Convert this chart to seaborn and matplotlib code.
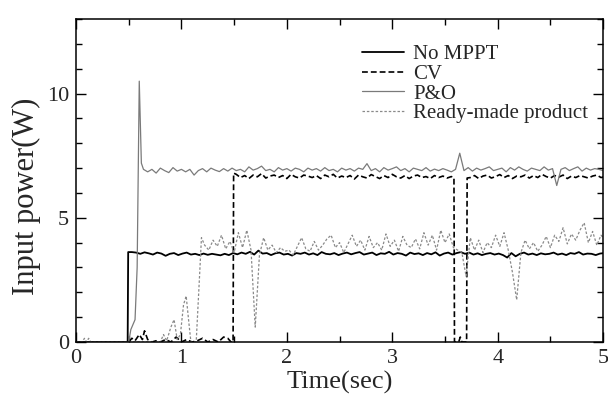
import numpy as np
import pandas as pd
import matplotlib
matplotlib.use("Agg")
import matplotlib.pyplot as plt
import seaborn as sns
from matplotlib.ticker import MultipleLocator

# sampling step of the noisy parts of the traces (sec)
STEP = 0.04

# --- No MPPT ---
nompt_head_t = [0.0, 0.49, 0.495]
nompt_head_p = [0.0, 0.0, 3.62]
nompt_start = 0.53
nompt_body = [
    3.62, 3.60, 3.55, 3.61, 3.57, 3.52, 3.60, 3.56, 3.47, 3.55,
    3.58, 3.50, 3.56, 3.60, 3.52, 3.55, 3.50, 3.56, 3.51, 3.55,
    3.52, 3.49, 3.55, 3.50, 3.58, 3.53, 3.60, 3.55, 3.63, 3.52,
    3.68, 3.56, 3.58, 3.50, 3.57, 3.60, 3.52, 3.55, 3.48, 3.58,
    3.55, 3.60, 3.52, 3.57, 3.50, 3.62, 3.55, 3.53, 3.58, 3.50,
    3.56, 3.60, 3.53, 3.58, 3.62, 3.52, 3.56, 3.60, 3.50, 3.57,
    3.55, 3.63, 3.52, 3.58, 3.55, 3.48, 3.60, 3.54, 3.57, 3.50,
    3.58, 3.53, 3.61, 3.48, 3.56, 3.60, 3.52, 3.58, 3.62, 3.55,
    3.60, 3.52, 3.57, 3.50, 3.55, 3.58, 3.52, 3.56, 3.50, 3.40,
    3.58, 3.45, 3.55, 3.60, 3.52, 3.56, 3.50, 3.57, 3.53, 3.55,
    3.60, 3.52, 3.56, 3.50, 3.58, 3.55, 3.62, 3.52, 3.56, 3.55,
    3.50, 3.56, 3.58,
]

# --- CV ---
cv_head_t = [0.0, 0.50, 0.53, 0.56, 0.60, 0.63, 0.65, 0.68, 0.72, 0.76, 0.80,
             0.85, 0.90, 0.95, 1.00, 1.05, 1.10, 1.15, 1.20, 1.25, 1.30, 1.35,
             1.40, 1.44, 1.47, 1.49, 1.495]
cv_head_p = [0.0, 0.0, 0.15, 0.05, 0.30, 0.10, 0.45, 0.10, 0.0, 0.05, 0.0,
             0.10, 0.0, 0.20, 0.0, 0.10, 0.0, 0.05, 0.15, 0.0, 0.10, 0.0,
             0.20, 0.15, 0.0, 0.0, 6.80]
cv_start1 = 1.52
cv_body1 = [
    6.75, 6.62, 6.70, 6.58, 6.72, 6.65, 6.78, 6.60, 6.68, 6.72,
    6.62, 6.70, 6.58, 6.75, 6.65, 6.60, 6.72, 6.68, 6.62, 6.70,
    6.58, 6.72, 6.65, 6.75, 6.60, 6.68, 6.62, 6.70, 6.56, 6.72,
    6.65, 6.60, 6.74, 6.66, 6.58, 6.70, 6.62, 6.75, 6.65, 6.60,
    6.70, 6.58, 6.68, 6.72, 6.62, 6.66, 6.58, 6.70, 6.62, 6.68,
    6.60, 6.66,
]
cv_drop_t = [3.585, 3.59, 3.63, 3.645, 3.66, 3.705, 3.71]
cv_drop_p = [6.62, 0.0, 0.0, 0.20, 0.0, 0.0, 6.60]
cv_start2 = 3.74
cv_body2 = [
    6.62, 6.70, 6.58, 6.68, 6.72, 6.60, 6.66, 6.74, 6.62, 6.70,
    6.58, 6.68, 6.65, 6.72, 6.60, 6.70, 6.62, 6.75, 6.66, 6.60,
    6.70, 6.64, 6.72, 6.58, 6.68, 6.62, 6.70, 6.65, 6.60, 6.68,
    6.72, 6.62, 6.66,
]

# --- P&O ---
po_head_t = [0.0, 0.50, 0.52, 0.56, 0.58, 0.60, 0.62, 0.64]
po_head_p = [0.0, 0.0, 0.50, 0.90, 3.00, 10.50, 7.20, 6.95]
po_start = 0.68
po_body = [
    6.85, 6.95, 6.80, 7.00, 6.90, 6.82, 7.02, 6.88, 6.95, 6.85,
    6.95, 6.72, 6.90, 6.98, 6.85, 7.00, 6.92, 6.86, 6.98, 6.88,
    7.00, 6.90, 6.95, 6.85, 7.05, 6.92, 6.98, 7.08, 6.90, 6.95,
    6.85, 7.02, 6.92, 6.98, 6.88, 7.00, 6.95, 6.85, 7.00, 6.92,
    6.98, 6.88, 7.02, 6.90, 6.95, 6.85, 7.00, 6.92, 6.98, 6.88,
    7.00, 6.95, 7.18, 6.90, 6.98, 6.85, 7.02, 6.92, 6.98, 7.05,
    6.90, 6.98, 6.85, 7.00, 6.95, 6.90, 7.02, 6.88, 6.96, 6.90,
    6.98, 6.92, 6.85, 6.95, 7.60, 6.90, 7.02, 6.88, 7.00, 6.92,
    6.98, 7.05, 6.90, 6.95, 7.00, 6.85, 7.02, 6.92, 7.05, 6.95,
    6.88, 7.00, 6.95, 6.90, 7.05, 6.92, 6.98, 6.30, 6.95, 7.02,
    6.90, 6.98, 7.05, 6.88, 7.00, 6.92, 6.98, 6.95, 6.90,
]

# --- Ready-made product ---
rm_head_t = [0.0, 0.06, 0.08, 0.10, 0.12, 0.14, 0.80, 0.83, 0.86, 0.90, 0.93,
             0.96, 0.99, 1.02, 1.045, 1.07, 1.09, 1.14, 1.17, 1.19]
rm_head_p = [0.0, 0.0, 0.15, 0.0, 0.15, 0.0, 0.0, 0.30, 0.05, 0.60, 0.90,
             0.10, 0.30, 1.50, 1.85, 0.80, 0.0, 0.0, 2.50, 4.20]
rm_start = 1.22
rm_body = [
    3.90, 3.70, 4.10, 3.85, 4.30, 3.75, 4.05, 3.60, 4.40, 3.80,
    4.50, 3.70, 0.60, 3.50, 4.20, 3.70, 3.90, 3.60, 3.80, 3.65,
    3.70, 3.50, 3.85, 4.20, 3.75, 3.65, 4.05, 3.70, 3.90, 4.15,
    4.30, 3.80, 4.00, 3.60, 3.95, 4.30, 3.85, 4.10, 3.70, 4.25,
    3.80, 4.00, 3.70, 4.35, 3.85, 4.10, 3.65, 4.25, 3.90, 3.80,
    4.15, 3.75, 4.40, 3.90, 4.30, 3.70, 4.50, 4.00, 4.35, 3.80,
    3.70, 3.60, 2.65, 4.20, 3.70, 4.10, 3.60, 4.00, 3.80, 4.30,
    3.85, 4.40, 3.70, 2.80, 1.70, 3.60, 4.10, 3.75, 4.00, 3.65,
    3.90, 4.25, 3.80, 4.30, 4.05, 4.60, 3.95, 4.35, 4.10, 4.50,
    4.80, 4.00, 4.45, 3.90, 4.30, 4.10,
]


def sampled(start, values):
    return list(start + STEP * np.arange(len(values)))


series = {
    "No MPPT": (nompt_head_t + sampled(nompt_start, nompt_body),
                nompt_head_p + nompt_body),
    "CV": (cv_head_t + sampled(cv_start1, cv_body1) + cv_drop_t + sampled(cv_start2, cv_body2),
           cv_head_p + cv_body1 + cv_drop_p + cv_body2),
    "P&O": (po_head_t + sampled(po_start, po_body), po_head_p + po_body),
    "Ready-made product": (rm_head_t + sampled(rm_start, rm_body), rm_head_p + rm_body),
}

styles = {
    "No MPPT": dict(color="black", lw=1.3, linestyle="-"),
    "CV": dict(color="black", lw=1.2, linestyle=(0, (3.5, 1.8))),
    "P&O": dict(color="#7a7a7a", lw=0.9, linestyle="-"),
    "Ready-made product": dict(color="#8a8a8a", lw=0.9, linestyle=(0, (2, 1.5))),
}

sns.set_style("ticks")
plt.rcParams["font.family"] = ["Liberation Serif", "DejaVu Serif"]

fig = plt.figure(figsize=(6.08, 3.97), dpi=100)
ax = fig.add_axes([0.125, 0.1385, 0.867, 0.8135])

for name, (t, p) in series.items():
    df = pd.DataFrame({"t": t, "P": p})
    sns.lineplot(data=df, x="t", y="P", sort=False, estimator=None,
                 label=name, ax=ax, **styles[name])

ax.set_xlim(0, 5)
ax.set_ylim(0, 13)
ax.xaxis.set_major_locator(MultipleLocator(1))
ax.xaxis.set_minor_locator(MultipleLocator(0.5))
ax.yaxis.set_major_locator(MultipleLocator(5))
ax.yaxis.set_minor_locator(MultipleLocator(1))
ax.tick_params(which="both", direction="in", top=True, right=True,
               labelsize=16, color="black", width=1.0)
ax.tick_params(which="major", length=7)
ax.tick_params(axis="x", which="major", pad=5)
ax.tick_params(axis="y", which="major", pad=5)
ax.tick_params(which="minor", length=4)
for s in ax.spines.values():
    s.set_visible(True)
    s.set_color("black")
    s.set_linewidth(1.1)

ax.set_xlabel("Time(sec)", fontsize=19, labelpad=2)
ax.set_ylabel("Input power(W)", fontsize=22, labelpad=0)
ax.yaxis.set_label_coords(-0.066, 0.45)

ax.legend(frameon=False, loc="upper left", bbox_to_anchor=(0.543, 0.92),
          fontsize=15, handlelength=2.0, handletextpad=0.45, labelspacing=0.0,
          borderpad=0, borderaxespad=0)

fig.savefig("out.png", dpi=100)
